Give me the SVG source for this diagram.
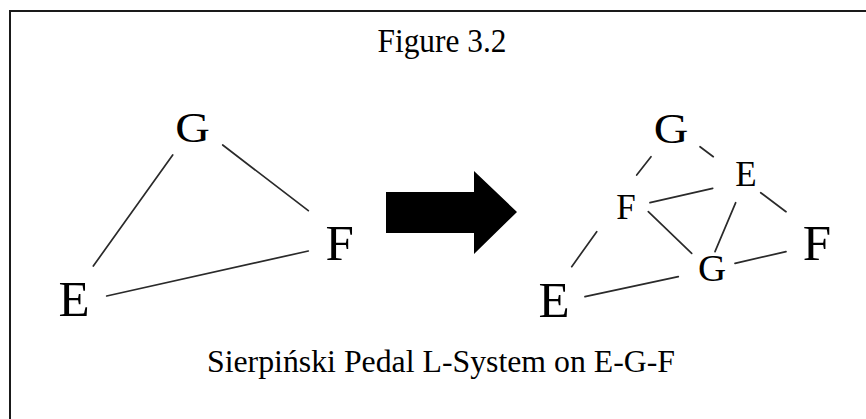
<svg xmlns="http://www.w3.org/2000/svg" width="866" height="419" viewBox="0 0 866 419">
<style>
text{font-family:"Liberation Serif","Times New Roman",serif;fill:#000;text-anchor:middle}
.big{font-size:51px}
.bigG{font-size:48px}
.mid{font-size:35px}
.edge{stroke:#2a2a2a;stroke-width:1.7;fill:none;stroke-linecap:round}
</style>
<rect x="0" y="0" width="866" height="419" fill="#fff"/>
<path d="M10,419 V11 H866" fill="none" stroke="#1a1a1a" stroke-width="2"/>
<text x="442" y="51.7" font-size="34" textLength="129" lengthAdjust="spacingAndGlyphs">Figure 3.2</text>
<g id="connectors">
<line class="edge" x1="172.7" y1="155" x2="93.3" y2="266"/>
<line class="edge" x1="222.7" y1="145" x2="308.3" y2="210.7"/>
<line class="edge" x1="106.7" y1="296" x2="308.3" y2="251"/>
<line class="edge" x1="651" y1="156.7" x2="636.7" y2="175"/>
<line class="edge" x1="700" y1="146.7" x2="713.3" y2="156.7"/>
<line class="edge" x1="650" y1="202.7" x2="712.7" y2="188.3"/>
<line class="edge" x1="760.7" y1="192.7" x2="786" y2="211.7"/>
<line class="edge" x1="735.7" y1="202.7" x2="715" y2="251.7"/>
<line class="edge" x1="648.3" y1="211.7" x2="691.7" y2="253.3"/>
<line class="edge" x1="735" y1="263.3" x2="786" y2="251.7"/>
<line class="edge" x1="596.7" y1="231.7" x2="571.7" y2="266.7"/>
<line class="edge" x1="585" y1="296.7" x2="678.3" y2="276.7"/>
</g>
<g id="arrow">
<polygon points="386,192 474,192 474,171 517,212 474,254 474,233 386,233" fill="#000"/>
</g>
<g id="left-G"><text class="bigG" transform="translate(192.5,142) scale(1,0.86)">G</text></g>
<g id="left-E"><text class="big" x="74" y="316">E</text></g>
<g id="left-F"><text class="big" x="339.7" y="259.5">F</text></g>
<g id="right-G-top"><text class="bigG" transform="translate(671,142.5) scale(1,0.86)">G</text></g>
<g id="right-E-mid"><text class="mid" x="746" y="186">E</text></g>
<g id="right-F-mid"><text class="mid" x="626" y="219">F</text></g>
<g id="right-G-low"><text font-size="39" transform="translate(712,281) scale(1,0.95)">G</text></g>
<g id="right-F"><text class="big" x="817" y="259.5">F</text></g>
<g id="right-E-low"><text class="big" x="554" y="317">E</text></g>
<text x="441" y="371.7" font-size="31" textLength="468" lengthAdjust="spacingAndGlyphs">Sierpiński Pedal L-System on E-G-F</text>
</svg>
